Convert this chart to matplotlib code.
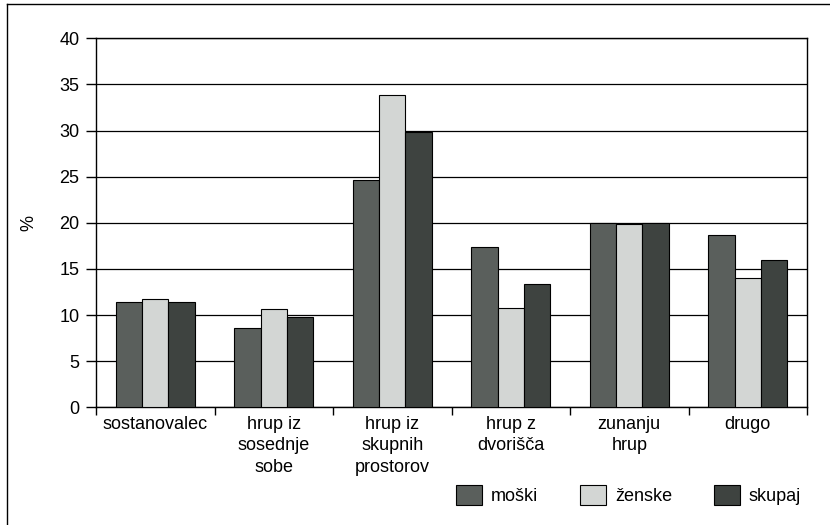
import numpy as np
import matplotlib.pyplot as plt
from matplotlib.lines import Line2D

plt.rcParams['font.family'] = ['Liberation Sans', 'DejaVu Sans']

# podatki
kategorije = ['sostanovalec', 'hrup iz\nsosednje\nsobe', 'hrup iz\nskupnih\nprostorov',
              'hrup z\ndvorišča', 'zunanju\nhrup', 'drugo']
moski = [11.4, 8.6, 24.6, 17.4, 20.0, 18.7]
zenske = [11.7, 10.7, 33.9, 10.8, 19.9, 14.0]
skupaj = [11.4, 9.8, 29.8, 13.4, 20.0, 16.0]
serije = ['moški', 'ženske', 'skupaj']
barve = ['#5a5f5c', '#d3d6d4', '#3e4340']

fig = plt.figure(figsize=(8.3, 5.25), dpi=100)
ax = fig.add_axes([0.1157, 0.2242, 0.8566, 0.7028])

x = np.arange(len(kategorije))
w = 0.222
for i, (vals, lab, c) in enumerate(zip([moski, zenske, skupaj], serije, barve)):
    ax.bar(x + (i - 1) * w, vals, w, color=c, edgecolor='black', linewidth=0.8,
           label=lab, zorder=3)

ax.set_ylim(0, 40)
ax.set_yticks(np.arange(0, 41, 5))
ax.set_xlim(-0.5, len(kategorije) - 0.5)
ax.set_xticks(x)
ax.set_xticklabels(kategorije, fontsize=13, linespacing=1.35)
ax.set_xticks(np.arange(-0.5, len(kategorije)), minor=True)
ax.tick_params(axis='x', which='major', length=0, pad=6)
ax.tick_params(axis='x', which='minor', length=6, width=1, direction='out')
ax.tick_params(axis='y', length=7, width=1, direction='out', labelsize=13, pad=5)
ax.grid(axis='y', color='black', linewidth=0.9, zorder=0)
ax.set_axisbelow(True)
for s in ax.spines.values():
    s.set_linewidth(1)
    s.set_color('black')
ax.set_ylabel('%', fontsize=13, labelpad=16)

fig.legend(loc='center', bbox_to_anchor=(0.757, 0.057), ncol=3, frameon=False,
           fontsize=13, handlelength=1.45, handleheight=1.35, columnspacing=2.3,
           handletextpad=0.5)

# okvir slike
fig.add_artist(Line2D([0.009, 0.009], [0, 0.993], transform=fig.transFigure, color='black', lw=1))
fig.add_artist(Line2D([0.009, 1], [0.993, 0.993], transform=fig.transFigure, color='black', lw=1))

fig.savefig('out.png', dpi=100)
